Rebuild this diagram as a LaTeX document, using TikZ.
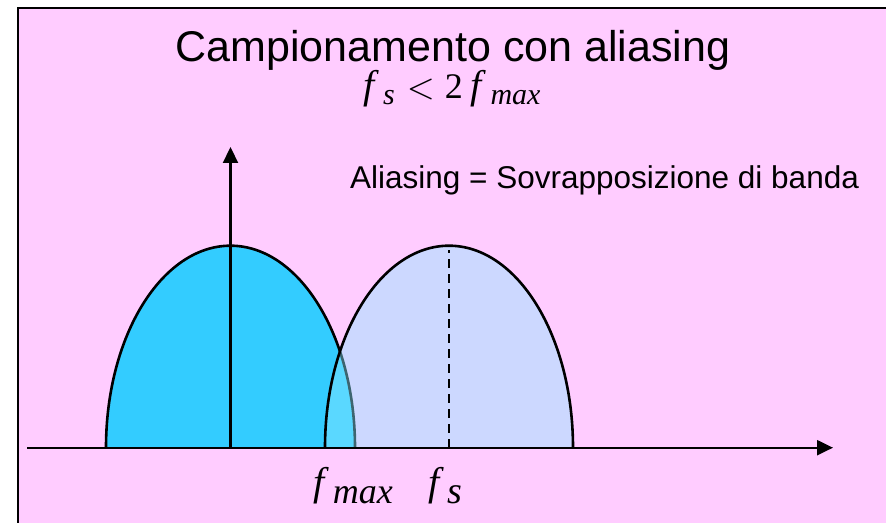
\documentclass[tikz,border=0pt]{standalone}
\usepackage{fontspec}
\setmainfont{Liberation Serif}
\newfontfamily\arialfont{Liberation Sans}
\usetikzlibrary{arrows.meta}
\definecolor{bgPink}{RGB}{255,204,255}
\definecolor{lobeCyan}{RGB}{51,204,255}
\definecolor{aliasCyan}{RGB}{140,232,255}
\newcommand{\fsub}[3]{\textit{f}\kern0.1em\raisebox{-#1}{\fontsize{#2}{#2}\selectfont\textit{#3}}}

\begin{document}
\begin{tikzpicture}[x=1pt,y=1pt,
    lobe/.style={line width=2.6pt},
    axis/.style={line width=2.2pt,-{Triangle[length=16pt,width=15pt]}},
    txt/.style={inner sep=0pt,anchor=base}]
  \useasboundingbox (0,0) rectangle (886,522);
  \fill[white] (0,0) rectangle (886,522);
  \draw[fill=bgPink,line width=2pt] (18,-10) rectangle (900,514);
  \coordinate (o) at (230.5,74.3);
  \coordinate (xs) at (27,74.3);
  \coordinate (xe) at (833,74.3);
  \coordinate (ye) at (230.5,375);
  \coordinate (fs) at (449,74.3);
  % the two spectra
  \draw[lobe,fill=lobeCyan] (106,74.3)
    arc[start angle=180,end angle=0,x radius=124.5,y radius=202];
  \fill[aliasCyan,fill opacity=0.44] (325,74.3)
    arc[start angle=180,end angle=0,x radius=124,y radius=202];
  \draw[lobe] (325,74.3)
    arc[start angle=180,end angle=0,x radius=124,y radius=202];
  \draw[lobe,dash pattern=on 9pt off 6pt] (fs) -- ++(0,198);
  \draw[axis] (xs) -- (xe);
  \draw[axis] (o) -- (ye);
  % texts
  \node[txt,font=\arialfont\fontsize{43}{43}\selectfont] (title)
    at (453,460) {Campionamento con aliasing};
  \node[txt,font=\fontsize{40}{40}\selectfont] (cond) at (452,423)
    {\fsub{6pt}{30}{s}\hspace{0.3em}{\fontsize{10}{10}\selectfont\scalebox{3.6}{$<$}}%
     \hspace{0.25em}{\fontsize{36}{36}\selectfont 2}\hspace{0.2em}\fsub{6pt}{30}{max}};
  \node[txt,anchor=base west,font=\arialfont\fontsize{31.5}{31.5}\selectfont]
    (alias) at (350,333) {Aliasing = Sovrapposizione di banda};
  \node[txt,anchor=base west,font=\fontsize{40}{40}\selectfont] (fmax)
    at (313,27) {\fsub{8pt}{36}{max}};
  \node[txt,anchor=base west,font=\fontsize{40}{40}\selectfont] (fsl)
    at (428,27) {\fsub{8pt}{38}{s}};
\end{tikzpicture}
\end{document}
